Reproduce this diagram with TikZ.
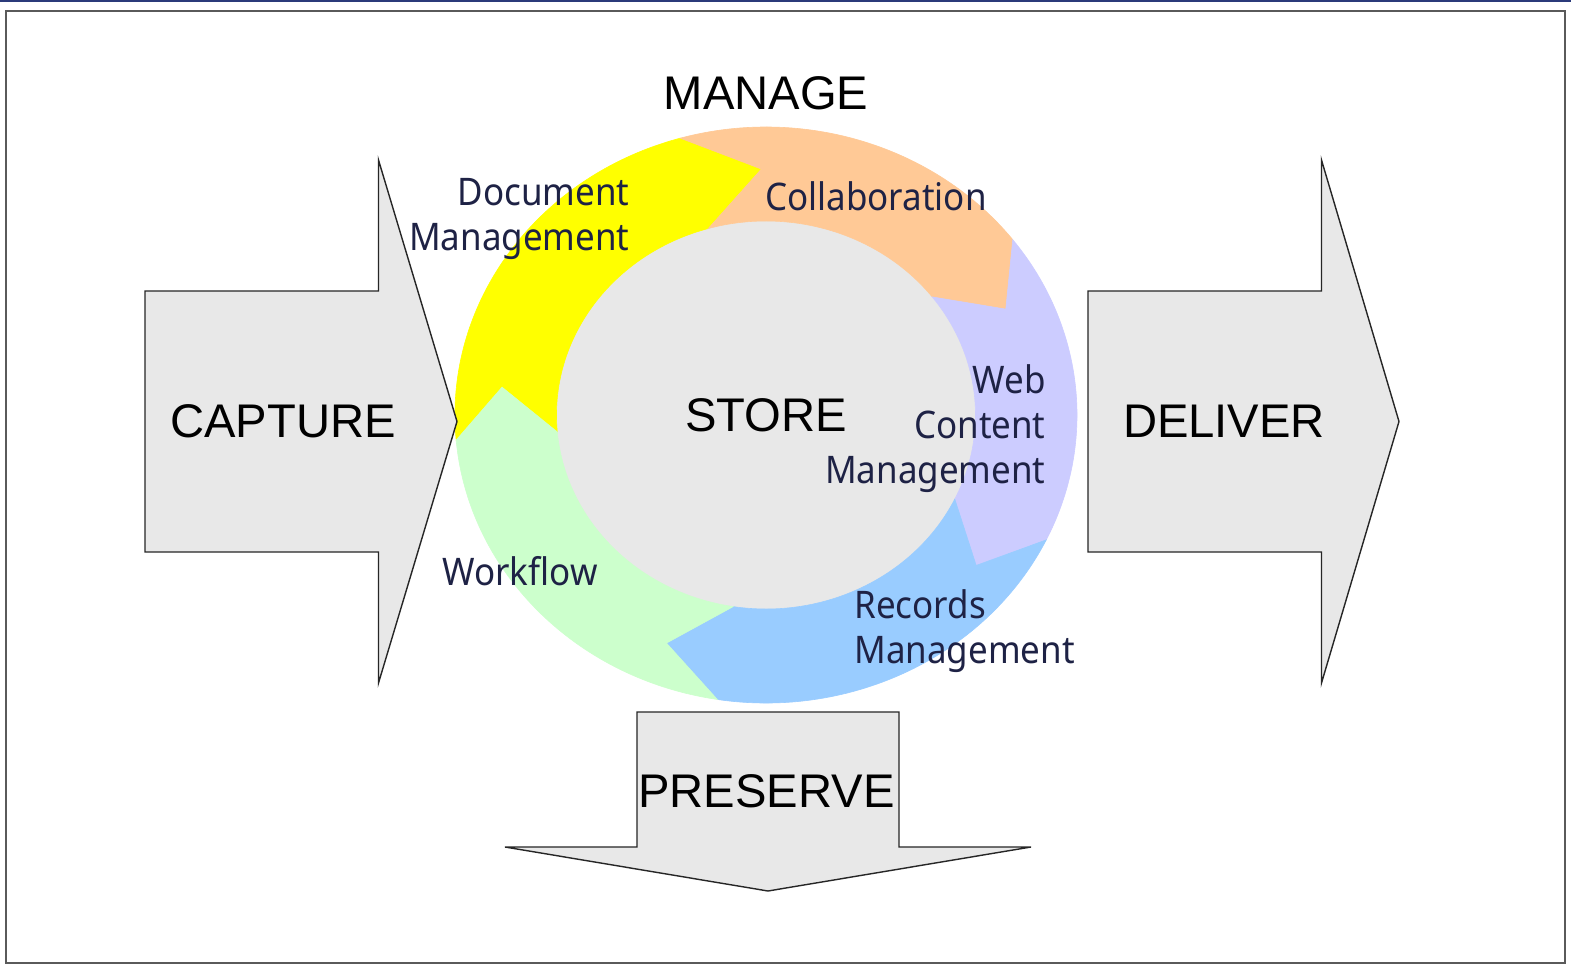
\documentclass[tikz,border=0pt]{standalone}
\usepackage{fontspec}
\setmainfont{Liberation Sans}
\newfontfamily\lblfont[FakeStretch=0.92]{Noto Sans}
\definecolor{boxgray}{HTML}{E8E8E8}
\definecolor{framegray}{HTML}{5A5A5A}
\definecolor{frameblue}{HTML}{2B3A7A}
\definecolor{navy}{HTML}{1E2245}
\definecolor{cYellow}{HTML}{FFFF00}
\definecolor{cOrange}{HTML}{FFC996}
\definecolor{cLav}{HTML}{CCCCFF}
\definecolor{cBlue}{HTML}{99CCFF}
\definecolor{cGreen}{HTML}{CCFFCC}
% one curved arrow of the ring: colour, tail angle, head angle, tail notch offset, head tip offset
\newcommand\ringpiece[5]{%
  \fill[#1, draw=#1, line width=0.3pt]
    (#2:288) arc[start angle=#2, end angle=#3, radius=288]
    -- ({#3-#5}:246) -- (#3:194)
    arc[start angle=#3, end angle=#2, radius=194]
    -- ({#2-#4}:246) -- cycle;}
\begin{document}
\begin{tikzpicture}[x=0.5pt, y=-0.5pt,
  bigarrow/.style={fill=boxgray, draw=black!85, line width=0.7pt, line join=miter},
  phase/.style={font=\fontsize{23.6}{27}\selectfont, text=black, inner sep=0pt},
  tool/.style={font=\lblfont\fontsize{19}{22.5}\selectfont, text=navy, inner sep=0pt},
]
\useasboundingbox (0,0) rectangle (1571,969);
\fill[white] (0,0) rectangle (1571,969);

% outer frame
\fill[frameblue] (0,0) rectangle (1571,2);
\draw[framegray, line width=1pt] (6,11) rectangle (1565,963);

% ring of ECM components around the store
\begin{scope}[shift={(766,415)}, xscale=1.08, yscale=-1]
  \fill[boxgray] (0,0) circle[radius=194];
  \ringpiece{cYellow}{185}{106}{11.5}{15}
  \ringpiece{cOrange}{106}{37.5}{15}{12}
  \ringpiece{cLav}{37.5}{-25.7}{12}{12}
  \ringpiece{cBlue}{-25.7}{-99}{12}{13}
  \ringpiece{cGreen}{261}{185}{13}{11.5}
\end{scope}

% block arrows
\draw[bigarrow] (145,291) -- (378.5,291) -- (378.5,160) -- (457,421.5)
  -- (378.5,683) -- (378.5,552) -- (145,552) -- cycle;
\draw[bigarrow] (1088,291) -- (1321.5,291) -- (1321.5,160) -- (1399,421.5)
  -- (1321.5,683) -- (1321.5,552) -- (1088,552) -- cycle;
\draw[bigarrow] (637,712) -- (899,712) -- (899,847) -- (1031,847)
  -- (768,891) -- (505,847) -- (637,847) -- cycle;

% phase labels
\node[phase] (manage) at (766,93.5) {MANAGE};
\node[phase] (capture) at (283,421.5) {CAPTURE};
\node[phase] (store) at (766,415) {STORE};
\node[phase] (deliver) at (1224,421.5) {DELIVER};
\node[phase] (preserve) at (766.5,791.5) {PRESERVE};

% component labels (base anchor sits on the last line)
\node[tool, align=right, anchor=base east] (docmgmt) at (630,250) {Document\\Management};
\node[tool, anchor=base west] (collab) at (765,210) {Collaboration};
\node[tool, align=right, anchor=base east] (wcm) at (1046,483) {Web\\Content\\Management};
\node[tool, align=left, anchor=base west] (records) at (854,663) {Records\\Management};
\node[tool, anchor=base west] (workflow) at (442,585) {Workflow};
\end{tikzpicture}
\end{document}
